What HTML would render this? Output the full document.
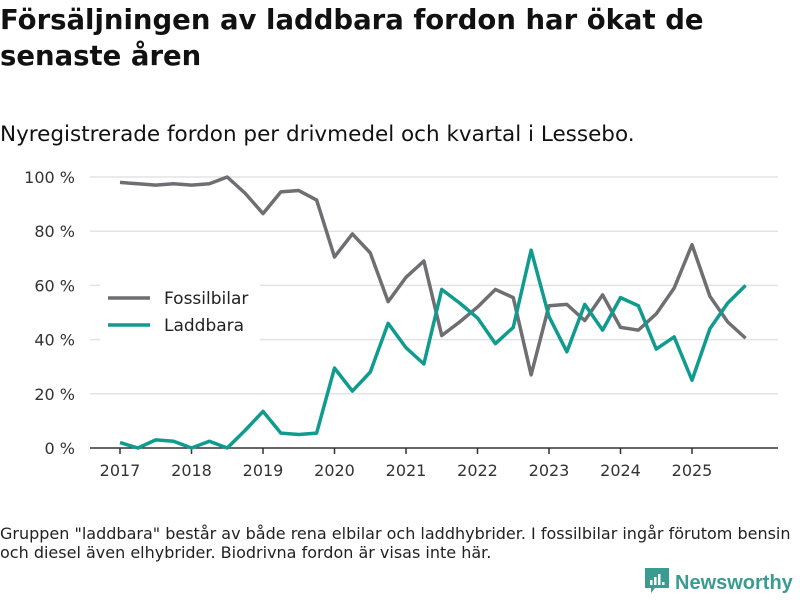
<!DOCTYPE html>
<html><head><meta charset="utf-8"><style>
body{margin:0;width:800px;height:600px;background:#fff;font-family:"DejaVu Sans","Liberation Sans",sans-serif;color:#111;overflow:hidden;position:relative}
.t{position:absolute;left:0;top:2px;font-size:27.5px;font-weight:bold;line-height:36px;width:800px}
.s{position:absolute;left:0;top:122px;font-size:21.5px}
.f{position:absolute;left:0;top:524px;font-size:16px;line-height:19px;color:#222;white-space:nowrap}
.logo{position:absolute;left:645px;top:568px;font-size:20px;color:#3a9b90;font-weight:bold;font-family:"Liberation Sans",sans-serif}
</style></head><body>
<div class="t">Försäljningen av laddbara fordon har ökat de senaste åren</div>
<div class="s">Nyregistrerade fordon per drivmedel och kvartal i Lessebo.</div>
<svg id="c" width="800" height="600" style="position:absolute;left:0;top:0"></svg>
<div class="f">Gruppen "laddbara" består av både rena elbilar och laddhybrider. I fossilbilar ingår förutom bensin<br>och diesel även elhybrider. Biodrivna fordon är visas inte här.</div>
<div class="logo"><svg width="24" height="26" viewBox="0 0 24 26" style="vertical-align:-5px;margin-right:6px"><path d="M0 0h24v20h-14l-4 5v-5h-6z" fill="#3a9b90"/><rect x="5" y="12" width="2.5" height="5" fill="#fff"/><rect x="9" y="9" width="2.5" height="8" fill="#fff"/><rect x="13" y="6" width="2.5" height="11" fill="#fff"/><rect x="17" y="14" width="2.5" height="3" fill="#fff"/></svg>Newsworthy</div>
<script>
const years=[2017,2018,2019,2020,2021,2022,2023,2024,2025];
const yTicks=[0,20,40,60,80,100];
const fossil=[98,97.5,97,97.5,97,97.5,100,94,86.5,94.5,95,91.5,70.5,79,72,54,63,69,41.5,46.5,52,58.5,55.5,27,52.5,53,47,56.5,44.5,43.5,49.5,59,75,56,46.5,40.5];
const laddbara=[2,0,3,2.5,0,2.5,0,6.5,13.5,5.5,5,5.5,29.5,21,28,46,37,31,58.5,53.5,48,38.5,44.5,73,48.5,35.5,53,43.5,55.5,52.5,36.5,41,25,44,53.5,60];
const svg=document.getElementById('c');const NS='http://www.w3.org/2000/svg';
const X=t=>120+(t-2017)*71.5, Y=v=>448-v*2.71;
function el(n,a){const e=document.createElementNS(NS,n);for(const k in a)e.setAttribute(k,a[k]);svg.appendChild(e);return e;}
yTicks.forEach(v=>{
 const g=el('line',{x1:90,x2:778,y1:Y(v),y2:Y(v),stroke:v?'#e3e3e3':'#333','stroke-width':1.5});
 
 
 const t=el('text',{x:75,y:Y(v)+6,'text-anchor':'end','font-size':16,fill:'#333'});t.textContent=v+' %';
 
 
});
years.forEach(y=>{
 const l=el('line',{x1:X(y),x2:X(y),y1:448,y2:454,stroke:'#333','stroke-width':1.5});
 
 
 const t=el('text',{x:X(y),y:476,'text-anchor':'middle','font-size':16,fill:'#333'});t.textContent=y;
 
 
});
function line(d,c,name){const p=el('polyline',{points:d.map((v,i)=>X(2017+i/4)+','+Y(v)).join(' '),fill:'none',stroke:c,'stroke-width':3.5,'stroke-linejoin':'round'});
 
 }
line(fossil,'#6f6e73','fossilbilar-line');
line(laddbara,'#109b8f','laddbara-line');
const lb=el('rect',{x:100,y:283,width:160,height:60,fill:'#fff',opacity:0.9});


[['Fossilbilar','#6f6e73',298],['Laddbara','#109b8f',325]].forEach(([n,c,y])=>{
 const l=el('line',{x1:108,x2:150,y1:y,y2:y,stroke:c,'stroke-width':3.5});
 
 
 const t=el('text',{x:164,y:y+6,'font-size':17,fill:'#222'});t.textContent=n;
 
 
});
</script>
</body></html>
